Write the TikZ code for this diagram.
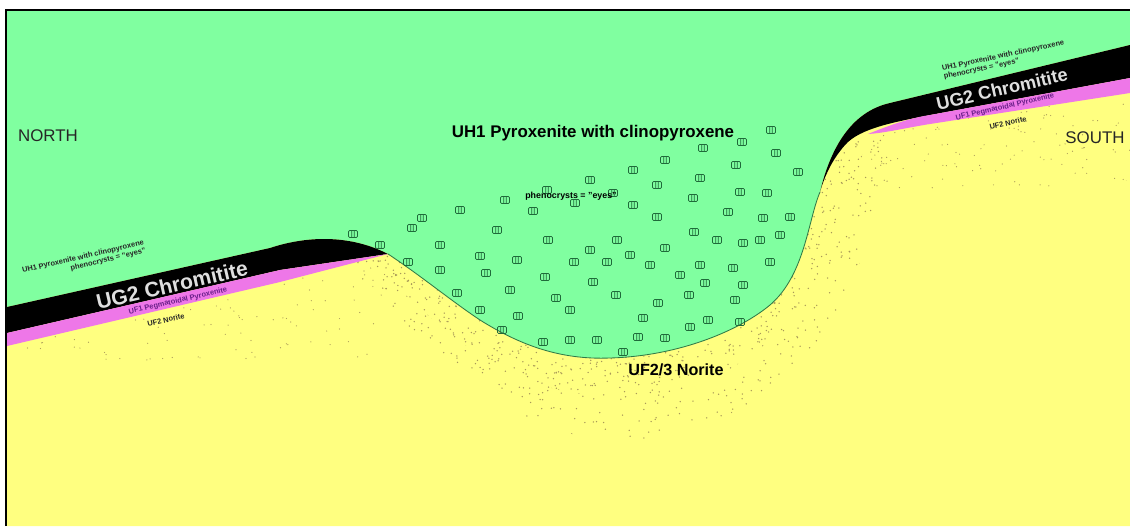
\documentclass[tikz,border=0pt]{standalone}
\usepackage{fontspec}
\setmainfont{Liberation Sans}
\setsansfont{Liberation Sans}

\begin{document}
\begin{tikzpicture}[
  x=0.025cm,y=-0.025cm,
  font=\sffamily,
  lbl/.style={font=\sffamily\bfseries\fontsize{#1}{#1}\selectfont,inner sep=0pt},
  tinylbl/.style={font=\sffamily\bfseries\fontsize{5.3}{5.9}\selectfont,inner sep=0pt,text=#1},
  compass/.style={font=\sffamily\fontsize{12}{12}\selectfont,inner sep=0pt,text=black!85},
  band/.style={lbl=#1,text=gray!25},
  rim/.style={draw=rimgreen,line width=0.6pt},
  speck/.style={fill=speckle},
  eye/.pic={\draw[draw=eyegreen,line width=0.55pt,rounded corners=0.8]
    (-4.5,-3.5) rectangle (4.5,3.5) (-1.2,-3.5) -- (-1.2,3.5) (1.2,-3.5) -- (1.2,3.5);}]

  \definecolor{pyx}{HTML}{80FFA0}
  \definecolor{nor}{HTML}{FFFF80}
  \definecolor{peg}{HTML}{EE77E8}
  \definecolor{rimgreen}{HTML}{2E7A48}
  \definecolor{eyegreen}{HTML}{1F6A3A}
  \definecolor{speckle}{HTML}{A89858}
  \definecolor{pegtext}{HTML}{6A1F8A}

  \useasboundingbox (0,0) rectangle (1130,526);

  % ---- backdrop ----
  \fill[white] (0,0) rectangle (1130,526);
  \fill[pyx] (7,11) rectangle (1130,526);

  % ---- norite floor with the pothole ----
  \fill[nor] (7,307) -- (270,248) .. controls (300,238) and (345,232) .. (388,254)
    .. controls (420,275) and (450,300) .. (480,320)
    .. controls (520,345) and (560,360) .. (610,358)
    .. controls (680,356) and (740,330) .. (770,305)
    .. controls (805,275) and (808,220) .. (820,192)
    .. controls (830,150) and (850,112) .. (890,103) -- (1130,45)
    -- (1130,526) -- (7,526) -- cycle;

  % ---- speckle in the norite ----
  \begin{scope}
    \clip (7,307) -- (270,248) .. controls (300,238) and (345,232) .. (388,254)
      .. controls (420,275) and (450,300) .. (480,320)
      .. controls (520,345) and (560,360) .. (610,358)
      .. controls (680,356) and (740,330) .. (770,305)
      .. controls (805,275) and (808,220) .. (820,192)
      .. controls (830,150) and (850,112) .. (890,103) -- (1130,45)
      -- (1130,526) -- (7,526) -- cycle;
    \begin{scope}
      \clip (320,240) .. controls (420,330) and (500,445) .. (630,440)
        .. controls (770,430) and (850,330) .. (875,210) -- (910,130) -- (820,130) -- cycle;
      \pgfmathsetseed{11}
      \foreach \k in {1,...,1500}{
        \pgfmathsetmacro\px{320+590*rnd}
        \pgfmathsetmacro\py{140+300*rnd}
        \fill[speck] (\px,\py) circle[radius=0.75];
      }
    \end{scope}
    % denser just under the rim
    \begin{scope}
      \clip (350,245) .. controls (430,315) and (500,400) .. (620,396)
        .. controls (745,392) and (815,320) .. (845,200) -- (870,135) -- (820,135) -- cycle;
      \foreach \k in {1,...,1300}{
        \pgfmathsetmacro\px{350+520*rnd}
        \pgfmathsetmacro\py{140+260*rnd}
        \fill[speck] (\px,\py) circle[radius=0.75];
      }
    \end{scope}
  \end{scope}
  \begin{scope}
    \clip (7,346) -- (280,282) -- (388,256) -- (388,400) -- (7,400) -- cycle;
    \foreach \k in {1,...,150}{
      \pgfmathsetmacro\px{7+380*rnd}
      \pgfmathsetmacro\py{260+100*rnd}
      \fill[speck] (\px,\py) circle[radius=0.6];
    }
  \end{scope}
  \begin{scope}
    \clip (870,133) -- (930,124) -- (1130,93) -- (1130,180) -- (870,200) -- cycle;
    \foreach \k in {1,...,160}{
      \pgfmathsetmacro\px{860+270*rnd}
      \pgfmathsetmacro\py{90+100*rnd}
      \fill[speck] (\px,\py) circle[radius=0.6];
    }
  \end{scope}

  % pothole rim
  \draw[rim] (388,254) .. controls (420,275) and (450,300) .. (480,320)
    .. controls (520,345) and (560,360) .. (610,358)
    .. controls (680,356) and (740,330) .. (770,305)
    .. controls (805,275) and (808,220) .. (820,192);

  % ---- chromitite + pegmatoid, north side ----
  \fill[black] (7,307) -- (270,248) .. controls (300,238) and (345,232) .. (388,254)
    -- (280,270) -- (7,333) -- cycle;
  \fill[peg] (7,333) -- (280,270) -- (388,254) -- (280,282) -- (7,346) -- cycle;

  % ---- chromitite + pegmatoid, south side ----
  \fill[black] (820,192) .. controls (830,150) and (850,112) .. (890,103) -- (1130,45)
    -- (1130,78) -- (930,115) .. controls (895,122) and (860,128) .. (845,145)
    .. controls (832,160) and (825,175) .. (820,192) -- cycle;
  \fill[peg] (868,134) .. controls (890,125) and (910,118) .. (930,115) -- (1130,78)
    -- (1130,93) -- (930,124) .. controls (905,128) and (885,133) .. (868,134) -- cycle;

  % ---- frame ----
  \draw[black,line width=1.3pt] (6,526) -- (6,10) -- (1130,10);

  % ---- clinopyroxene eyes ----
  \foreach \ex/\ey in {771/130,742/142,703/148,776/153,665/160,633/170,736/165,
      700/178,590/180,798/172,657/185,740/192,767/193,547/190,613/193,
      505/200,575/203,693/198,460/210,533/211,633/205,728/212,763/218,
      790/217,422/218,657/217,353/234,412/228,497/230,548/240,617/240,
      694/232,760/240,780/235,380/245,440/245,590/250,630/255,665/248,
      717/240,743/243,408/262,480/256,517/260,574/262,607/262,650/265,
      700/265,733/268,770/262,440/270,486/273,545/277,593/282,680/275,
      705/283,743/285,457/293,510/290,556/298,616/295,658/303,689/295,
      735/300,480/310,518/316,570/310,643/318,708/320,502/330,543/342,
      570/340,597/340,638/337,665/338,690/327,740/322,623/352}
    \pic at (\ex,\ey) {eye};

  % ---- labels ----
  \node[compass] (north) at (48,136) {NORTH};
  \node[compass] (south) at (1095,138) {SOUTH};
  \node[lbl=12] (uh1) at (593,133) {UH1 Pyroxenite with clinopyroxene};
  \node[tinylbl=black,font=\sffamily\bfseries\fontsize{6.3}{6.3}\selectfont]
    (eyes) at (571,196) {phenocrysts = "eyes"};
  \node[lbl=11.5] (uf23) at (676,370) {UF2/3 Norite};

  \node[band=15,rotate=13] (ug2n) at (172,285) {UG2 Chromitite};
  \node[tinylbl=black!85,rotate=13,align=right] (uh1n) at (84,261)
    {UH1 Pyroxenite with clinopyroxene\\phenocrysts = "eyes"};
  \node[tinylbl=pegtext,rotate=13] (uf1n) at (178,301) {UF1 Pegmatoidal Pyroxenite};
  \node[tinylbl=black!85,rotate=13] (uf2n) at (166,320) {UF2 Norite};

  \node[band=13,rotate=13] (ug2s) at (1002,89) {UG2 Chromitite};
  \node[tinylbl=black!85,rotate=12,align=left] (uh1s) at (1004,60)
    {UH1 Pyroxenite with clinopyroxene\\phenocrysts = "eyes"};
  \node[tinylbl=pegtext,rotate=13] (uf1s) at (1005,107) {UF1 Pegmatoidal Pyroxenite};
  \node[tinylbl=black!85,rotate=13] (uf2s) at (1008,123) {UF2 Norite};
\end{tikzpicture}
\end{document}
